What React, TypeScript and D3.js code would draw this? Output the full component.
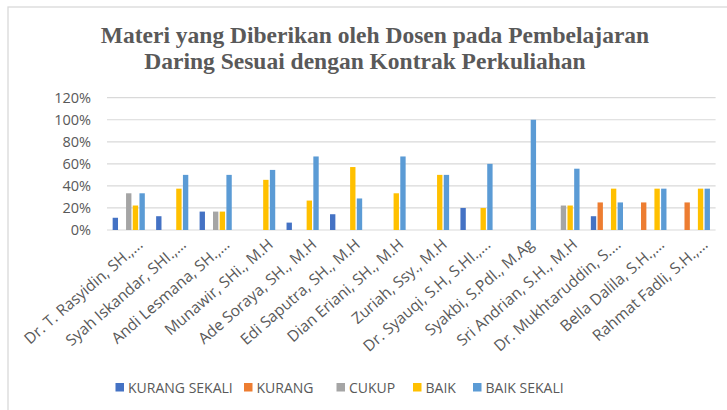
import React from "react";
import * as d3 from "d3";

const categories = [
  "Dr. T. Rasyidin, SH.,...",
  "Syah Iskandar, SHI.,...",
  "Andi Lesmana, SH.,...",
  "Munawir, SHi., M.H",
  "Ade Soraya, SH., M.H",
  "Edi Saputra, SH., M.H",
  "Dian Eriani, SH., M.H",
  "Zuriah, Ssy., M.H",
  "Dr. Syauqi, S.H, S.HI.,...",
  "Syakbi, S.Pdl., M.Ag",
  "Sri Andrian, S.H., M.H",
  "Dr. Mukhtaruddin, S....",
  "Bella Dalila, S.H.,...",
  "Rahmat Fadli, S.H.,...",
];

const seriesNames = ["KURANG SEKALI", "KURANG", "CUKUP", "BAIK", "BAIK SEKALI"];
const seriesColors = ["#4472C4", "#ED7D31", "#A5A5A5", "#FFC000", "#5B9BD5"];

const kurangSekali = [11.1, 12.5, 16.7, 0, 6.7, 14.3, 0, 0, 20, 0, 0, 12.5, 0, 0];
const kurang = [0, 0, 0, 0, 0, 0, 0, 0, 0, 0, 0, 25, 25, 25];
const cukup = [33.3, 0, 16.7, 0, 0, 0, 0, 0, 0, 0, 22.2, 0, 0, 0];
const baik = [22.2, 37.5, 16.7, 45.5, 26.7, 57.1, 33.3, 50, 20, 0, 22.2, 37.5, 37.5, 37.5];
const baikSekali = [33.3, 50, 50, 54.5, 66.7, 28.6, 66.7, 50, 60, 100, 55.6, 25, 37.5, 37.5];

const yTicks = [0, 20, 40, 60, 80, 100, 120];

const seriesValues = [kurangSekali, kurang, cukup, baik, baikSekali];

export default function App() {
  const W = 727;
  const H = 410;
  const plotLeft = 107;
  const plotRight = 715.6;
  const plotTop = 97.7;
  const plotBottom = 230;

  const x0 = d3.scaleBand<string>().domain(categories).range([plotLeft, plotRight]).padding(0);
  const groupW = 33.5;
  const x1 = d3
    .scaleBand<string>()
    .domain(seriesNames)
    .range([0, groupW])
    .paddingInner(0.2)
    .paddingOuter(0.1);
  const y = d3.scaleLinear().domain([0, 120]).range([plotBottom, plotTop]);

  const font = "'Open Sans', 'Liberation Sans', sans-serif";
  const textColor = "#595959";

  const legendX = [115.5, 244, 336.5, 413, 473];

  return (
    <svg
      width={W}
      height={H}
      style={{ position: "absolute", left: 0, top: 0, background: "#fff" }}
    >
      <rect x={8} y={7} width={W + 10} height={H + 10} fill="#fff" stroke="#d9d9d9" strokeWidth={1.3} />
      <text
        x={375}
        y={43}
        textAnchor="middle"
        fontFamily="'Liberation Serif', 'Times New Roman', serif"
        fontWeight="bold"
        fontSize={23.5}
        fill="#595959"
      >
        Materi yang Diberikan oleh Dosen pada Pembelajaran
      </text>
      <text
        x={365}
        y={69}
        textAnchor="middle"
        fontFamily="'Liberation Serif', 'Times New Roman', serif"
        fontWeight="bold"
        fontSize={23.5}
        fill="#595959"
      >
        Daring Sesuai dengan Kontrak Perkuliahan
      </text>

      {yTicks.map((t) => (
        <g key={t}>
          <line
            x1={plotLeft}
            x2={plotRight}
            y1={y(t)}
            y2={y(t)}
            stroke="#d9d9d9"
            strokeWidth={1.2}
          />
          <text
            x={91}
            y={y(t)}
            dy="0.36em"
            textAnchor="end"
            fontFamily={font}
            fontSize={14.5}
            fill={textColor}
          >
            {t}%
          </text>
        </g>
      ))}

      {categories.map((c, ci) => {
        const gx = (x0(c) as number) + (x0.bandwidth() - groupW) / 2;
        return (
          <g key={c}>
            {seriesNames.map((s, si) => {
              const v = seriesValues[si][ci];
              if (!v) return null;
              return (
                <rect
                  key={s}
                  x={gx + (x1(s) as number)}
                  y={y(v)}
                  width={x1.bandwidth()}
                  height={y(0) - y(v)}
                  fill={seriesColors[si]}
                />
              );
            })}
          </g>
        );
      })}

      {categories.map((c) => {
        const cx = (x0(c) as number) + x0.bandwidth() / 2;
        const ax = cx + 15;
        const ay = 246;
        return (
          <text
            key={c}
            x={ax}
            y={ay}
            textAnchor="end"
            transform={`rotate(-41 ${ax} ${ay})`}
            fontFamily={font}
            fontSize={15.5}
            fill={textColor}
          >
            {c}
          </text>
        );
      })}

      {seriesNames.map((s, i) => (
        <g key={s}>
          <rect x={legendX[i]} y={383} width={8.5} height={8.5} fill={seriesColors[i]} />
          <text
            x={legendX[i] + 12.5}
            y={387.5}
            dy="0.36em"
            fontFamily={font}
            fontSize={14}
            fill={textColor}
          >
            {s}
          </text>
        </g>
      ))}
    </svg>
  );
}
